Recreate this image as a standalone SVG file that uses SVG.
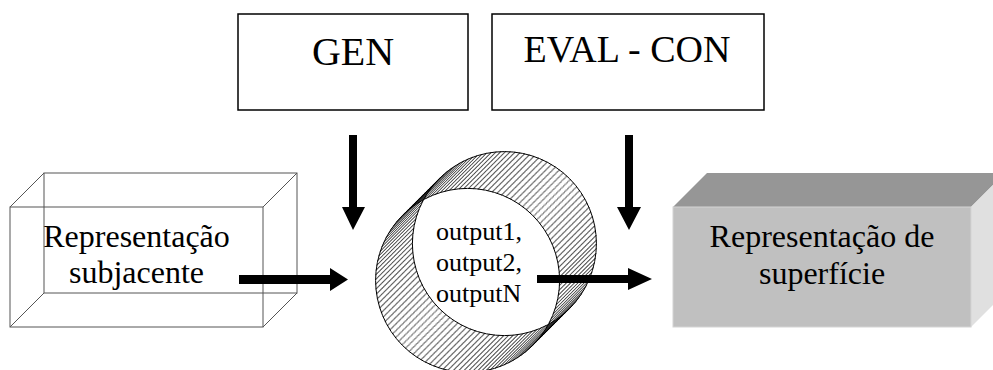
<svg xmlns="http://www.w3.org/2000/svg" width="993" height="370" viewBox="0 0 993 370">
<style>
  .box { fill: #fff; stroke: #000; stroke-width: 1.5; }
  .wire { fill: none; stroke: #555; stroke-width: 1; }
  .arrow { fill: #000; stroke: none; }
  .t { font-family: "Liberation Serif", "Times New Roman", Times, serif; }
</style>
<defs>
  <circle id="dots" cx="467.6" cy="280.4" r="92" fill="none" stroke="#000" stroke-width="0.9" stroke-dasharray="0.8 4.01711"/>
  <g id="s4">
    <use href="#dots"/>
    <use href="#dots" transform="translate(0.5841 -0.5841)"/>
    <use href="#dots" transform="translate(1.1683 -1.1683)"/>
    <use href="#dots" transform="translate(1.7524 -1.7524)"/>
  </g>
  <g id="s16">
    <use href="#s4"/>
    <use href="#s4" transform="translate(2.3365 -2.3365)"/>
    <use href="#s4" transform="translate(4.6730 -4.6730)"/>
    <use href="#s4" transform="translate(7.0095 -7.0095)"/>
  </g>
</defs>

<g id="gen">
  <rect class="box" x="238" y="14" width="230" height="96"/>
  <text class="t" x="353" y="65" text-anchor="middle" font-size="40">GEN</text>
</g>

<g id="eval-con">
  <rect class="box" x="492" y="14" width="272" height="96"/>
  <text class="t" x="627" y="62" text-anchor="middle" font-size="38">EVAL - CON</text>
</g>

<g id="representacao-subjacente">
  <rect class="wire" x="44" y="173" width="253" height="120"/>
  <rect class="wire" x="10" y="207" width="253" height="120"/>
  <line class="wire" x1="10" y1="207" x2="44" y2="173"/>
  <line class="wire" x1="263" y1="207" x2="297" y2="173"/>
  <line class="wire" x1="10" y1="327" x2="44" y2="293"/>
  <line class="wire" x1="263" y1="327" x2="297" y2="293"/>
  <text class="t" x="136.5" y="247" text-anchor="middle" font-size="32">Representação</text>
  <text class="t" x="136.5" y="283" text-anchor="middle" font-size="32">subjacente</text>
</g>

<g id="outputs">
  <use href="#s16"/>
  <use href="#s16" transform="translate(9.3460 -9.3460)"/>
  <use href="#s16" transform="translate(18.692 -18.692)"/>
  <use href="#s16" transform="translate(28.038 -28.038)"/>
  <circle cx="467.6" cy="280.4" r="92" fill="none" stroke="#000" stroke-width="1"/>
  <circle cx="504.4" cy="243.6" r="92" fill="none" stroke="#000" stroke-width="1"/>
  <text class="t" x="436" y="240" font-size="26">output1,</text>
  <text class="t" x="436" y="271" font-size="26">output2,</text>
  <text class="t" x="436" y="302" font-size="26">outputN</text>
</g>

<g id="representacao-de-superficie">
  <polygon points="673,207 707,173 1005,173 971,207" fill="#969696"/>
  <polygon points="971,207 1005,173 1005,293 971,327" fill="#e0e0e0"/>
  <rect x="673" y="207" width="298" height="120" fill="#c0c0c0" stroke="#d4d4d4" stroke-width="1"/>
  <text class="t" x="822" y="247" text-anchor="middle" font-size="32">Representação de</text>
  <text class="t" x="822" y="284" text-anchor="middle" font-size="32">superfície</text>
</g>

<g id="connectors">
  <polygon class="arrow" points="349,135 357,135 357,207 365,207 353,230 342,207 349,207"/>
  <polygon class="arrow" points="625,135 633,135 633,207 641,207 629,230 617,207 625,207"/>
  <polygon class="arrow" points="239,275 330,275 330,268 348,279.5 330,291 330,284 239,284"/>
  <polygon class="arrow" points="537,275 628,275 628,268 652,279 628,290 628,283 537,283"/>
</g>
</svg>
